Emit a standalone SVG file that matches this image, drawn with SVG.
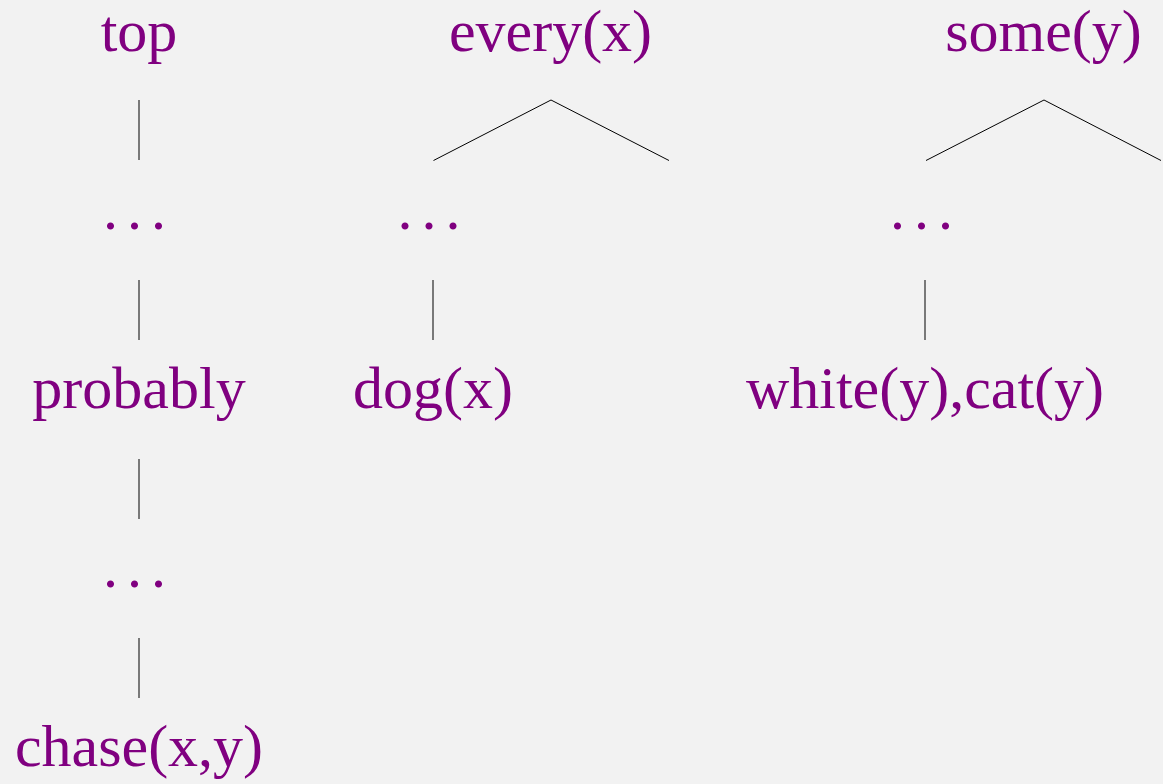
<svg xmlns="http://www.w3.org/2000/svg" width="1163" height="784" viewBox="0 0 1163 784">
<style>
.t{font-family:"Liberation Serif","Times New Roman",serif;font-size:60px;fill:#800080;text-anchor:middle}
.d{font-family:"Liberation Serif","Times New Roman",serif;font-size:60px;fill:#800080;letter-spacing:9px}
.c{stroke:#000;stroke-width:1;fill:none}
</style>
<rect width="1163" height="784" fill="#f2f2f2"/>
<g id="connectors">
<path class="c" d="M139 100V160M139 280V340M139 459V519M139 638V698"/>
<path class="c" d="M433.5 160.5L551 100L669 160.5"/>
<path class="c" d="M433 280V340"/>
<path class="c" d="M926 160.5L1044 100L1161 160.5"/>
<path class="c" d="M925 280V340"/>
</g>
<g id="n-top"><text class="t" x="139" y="51">top</text></g>
<g id="n-dots1"><text class="d" x="103" y="229">...</text></g>
<g id="n-probably"><text class="t" x="139" y="408">probably</text></g>
<g id="n-dots2"><text class="d" x="103" y="587">...</text></g>
<g id="n-chase"><text class="t" x="139" y="766">chase(x,y)</text></g>
<g id="n-every"><text class="t" x="550.5" y="51">every(x)</text></g>
<g id="n-dots3"><text class="d" x="397.5" y="229">...</text></g>
<g id="n-dog"><text class="t" x="433" y="408">dog(x)</text></g>
<g id="n-some"><text class="t" x="1043.5" y="51">some(y)</text></g>
<g id="n-dots4"><text class="d" x="890" y="229">...</text></g>
<g id="n-whitecat"><text class="t" x="925" y="408">white(y),cat(y)</text></g>
</svg>
